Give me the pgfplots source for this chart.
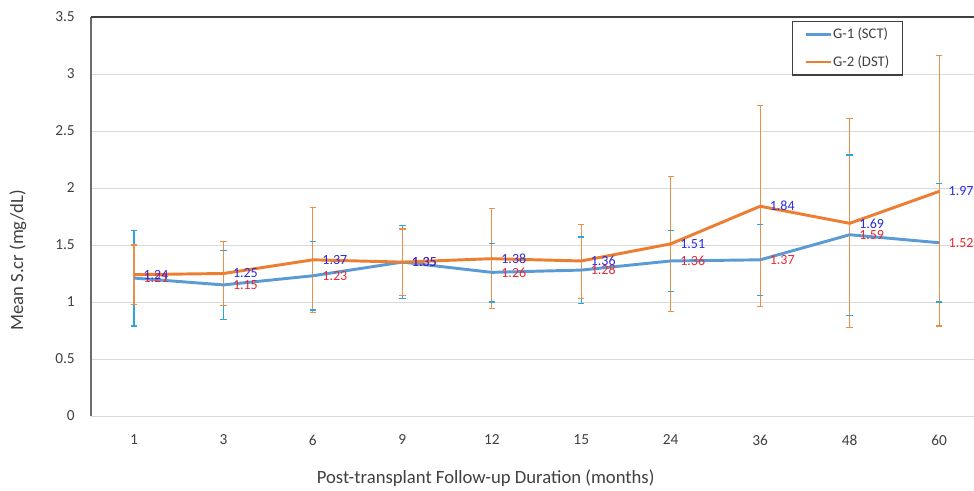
\documentclass[border=0pt]{standalone}
\usepackage{fontspec}
\setmainfont{Carlito}
\usepackage{pgfplots}
\pgfplotsset{compat=1.18}
\definecolor{lineblue}{HTML}{5B9BD5}
\definecolor{lineorange}{HTML}{ED7D31}
\definecolor{barcyan}{HTML}{2AA7D8}
\definecolor{barorange}{HTML}{E8904A}
\definecolor{lblblue}{HTML}{2B2BE0}
\definecolor{lblred}{HTML}{E52B35}
\definecolor{txtgray}{HTML}{404040}
\definecolor{gridgray}{HTML}{D9D9D9}
% means and data labels
\pgfplotstableread{
x y lab
0 1.21 1.21
1 1.15 1.15
2 1.23 1.23
3 1.35 1.35
4 1.26 1.26
5 1.28 1.28
6 1.36 1.36
7 1.37 1.37
8 1.59 1.59
9 1.52 1.52
}\gone
\pgfplotstableread{
x y lab
0 1.24 1.24
1 1.25 1.25
2 1.37 1.37
3 1.35 1.35
4 1.38 1.38
5 1.36 1.36
6 1.51 1.51
7 1.84 1.84
8 1.69 1.69
9 1.97 1.97
}\gtwo
% error bar ends (mean - SD, mean + SD), nan = break
\pgfplotstableread{
x y
0 0.79
0 1.63
0 nan
1 0.85
1 1.45
1 nan
2 0.93
2 1.53
2 nan
3 1.03
3 1.67
3 nan
4 1.00
4 1.51
4 nan
5 0.99
5 1.57
5 nan
6 1.09
6 1.63
6 nan
7 1.06
7 1.68
7 nan
8 0.88
8 2.29
8 nan
9 1.00
9 2.04
}\goneerr
\pgfplotstableread{
x y
0 0.98
0 1.50
0 nan
1 0.97
1 1.53
1 nan
2 0.91
2 1.83
2 nan
3 1.06
3 1.64
3 nan
4 0.94
4 1.82
4 nan
5 1.03
5 1.68
5 nan
6 0.92
6 2.10
6 nan
7 0.96
7 2.72
7 nan
8 0.78
8 2.61
8 nan
9 0.79
9 3.16
}\gtwoerr
\begin{document}
\begin{tikzpicture}
\begin{axis}[
  at={(0,0)}, anchor=south west,
  scale only axis,
  width=662.25pt, height=299.25pt,
  xmin=-0.48, xmax=9.39,
  ymin=0, ymax=3.5,
  ytick={0,0.5,1,1.5,2,2.5,3,3.5},
  xtick={0,1,2,3,4,5,6,7,8,9},
  xticklabels={1,3,6,9,12,15,24,36,48,60},
  major tick length=0pt,
  ymajorgrids,
  grid style={gridgray, line width=0.75pt},
  axis line style={draw=none},
  unbounded coords=jump,
  /pgf/number format/assume math mode=true,
  tick label style={font=\fontsize{11.5}{13}\selectfont, text=txtgray},
  yticklabel style={anchor=east, inner sep=0pt, xshift=-12pt},
  xticklabel style={anchor=north, inner sep=0pt, yshift=-14pt},
  xlabel={Post-transplant Follow-up Duration (months)},
  ylabel={Mean S.cr (mg/dL)},
  label style={font=\fontsize{14}{16}\selectfont, text=txtgray},
  xlabel style={at={(axis description cs:0.447,-0.155)}, anchor=center},
  ylabel style={at={(axis description cs:-0.0827,0.39)}, anchor=center},
  clip=false,
  legend style={at={(axis description cs:0.794,0.99)}, anchor=north west,
    draw=txtgray, line width=0.8pt, fill=white,
    font=\fontsize{11}{12}\selectfont, text=txtgray,
    inner xsep=9pt, inner ysep=4pt, row sep=9pt,
    nodes={inner sep=1pt}},
  legend cell align=left,
  legend image code/.code={\draw[#1, line width=1.8pt] (0pt,0pt) -- (18.5pt,0pt);},
]
\draw[gray!85!black, line width=1pt] (rel axis cs:0,0) -- (rel axis cs:0,1);
\draw[txtgray, line width=0.8pt] (rel axis cs:0,1) -- (rel axis cs:1,1);

% error bars
\addplot[forget plot, barcyan, line width=0.85pt, mark=-, mark size=2.4pt,
  mark options={solid, line width=0.85pt}] table[x=x, y=y] {\goneerr};
\addplot[forget plot, barorange, line width=0.85pt, mark=-, mark size=2.4pt,
  mark options={solid, line width=0.85pt}] table[x=x, y=y] {\gtwoerr};

% mean lines
\addplot[color=lineblue, line width=2.2pt] table[x=x, y=y] {\gone};
\addlegendentry{G-1 (SCT)}
\addplot[color=lineorange, line width=2.2pt] table[x=x, y=y] {\gtwo};
\addlegendentry{G-2 (DST)}

% data labels
\addplot[draw=none, mark=none, forget plot, point meta=explicit symbolic, nodes near coords,
  every node near coord/.append style={anchor=west, xshift=7pt, inner sep=0pt,
    font=\fontsize{10.5}{12}\selectfont, text=lblred}]
  table[x=x, y=y, meta=lab] {\gone};
\addplot[draw=none, mark=none, forget plot, point meta=explicit symbolic, nodes near coords,
  every node near coord/.append style={anchor=west, xshift=7pt, inner sep=0pt,
    font=\fontsize{10.5}{12}\selectfont, text=lblblue}]
  table[x=x, y=y, meta=lab] {\gtwo};
\end{axis}
\pgfresetboundingbox
\useasboundingbox (-68.25pt,-55.5pt) rectangle (662.25pt,312pt);
\end{tikzpicture}
\end{document}
